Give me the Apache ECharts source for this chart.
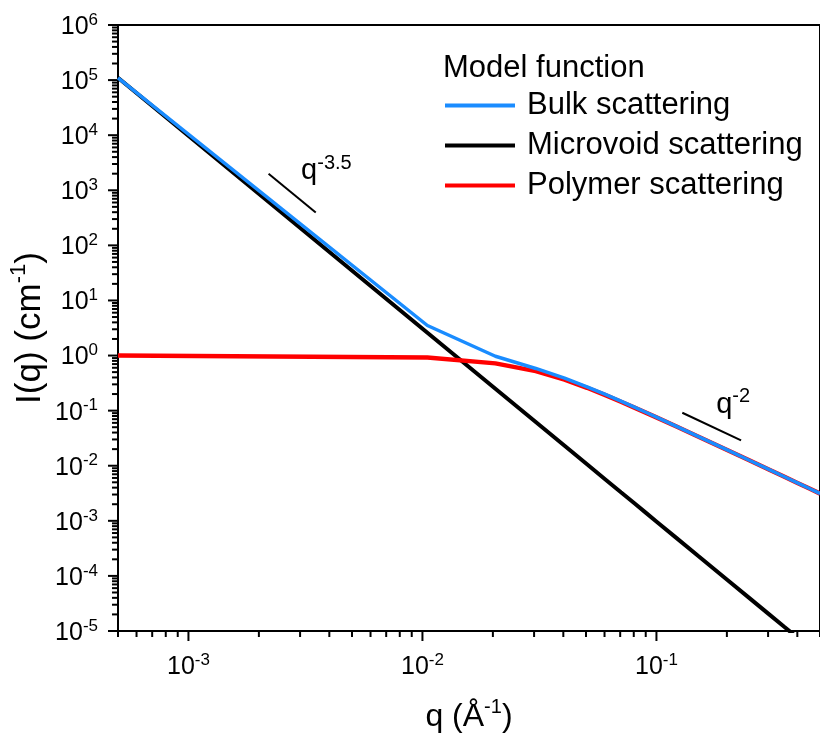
<!DOCTYPE html>
<html>
<head>
<meta charset="utf-8">
<script src="https://cdn.jsdelivr.net/npm/echarts@6/dist/echarts.min.js"></script>
<style>
  html, body { margin: 0; background: #fff; }
  #chart { width: 820px; height: 738px; }
</style>
</head>
<body>
<div id="chart"></div>
<script>
// q (Å^-1) of the model points
const qValues = [0.0005, 0.0105, 0.0205, 0.0305, 0.0405, 0.0505, 0.0605, 0.0705, 0.0805, 0.0905,
  0.1005, 0.1205, 0.1505, 0.2005, 0.2505, 0.3005, 0.3505, 0.4005, 0.4505, 0.5005];
// I(q) (cm^-1)
const bulkI = [1.1e5, 3.51, 0.970, 0.583, 0.388, 0.2707, 0.1968, 0.1485, 0.1157, 0.0925,
  0.0756, 0.0530, 0.0342, 0.01939, 0.01245, 0.00866, 0.00637, 0.00488, 0.00386, 0.00312];
const microvoidI = [1.1e5, 2.59, 0.249, 0.0620, 0.0230, 0.01062, 5.64e-3, 3.30e-3, 2.08e-3, 1.38e-3,
  9.55e-4, 5.06e-4, 2.32e-4, 8.52e-5, 3.91e-5, 2.07e-5, 1.206e-5, 7.56e-6, 5.01e-6, 3.47e-6];
const polymerI = [1.0, 0.919, 0.721, 0.521, 0.365, 0.2601, 0.1912, 0.1452, 0.1136, 0.0911,
  0.0746, 0.0525, 0.0340, 0.01930, 0.01241, 0.00864, 0.00636, 0.00487, 0.00385, 0.00312];

// slope guides and their labels
const guideSteep = [[2.2e-3, 2.0e3], [3.5e-3, 394]];
const guideFlat = [[0.129, 0.0916], [0.230, 0.0288]];
const guideLabelPos = [[3.03e-3, 2.2e3], [0.180, 0.128]];
const guidePowers = ['-3.5', '-2'];

const seriesNames = ['Bulk scattering', 'Microvoid scattering', 'Polymer scattering'];

// axis ranges and labelled decades (tick labels are 10^exp)
const xMin = 0.0005, xMax = 0.5;
const yMin = 1e-5, yMax = 1e6;
const xTickExps = [-3, -2, -1];
const yTickExps = [-5, -4, -3, -2, -1, 0, 1, 2, 3, 4, 5, 6];

// minor ticks at 2..9 of each decade
const minorSteps = [2, 3, 4, 5, 6, 7, 8, 9];
const xMinor = [[xMin, yMin]];
[-4, -3, -2, -1].forEach(d => minorSteps.forEach(k => {
  const v = k * Math.pow(10, d);
  if (v > xMin * 1.01 && v <= xMax * 1.001) xMinor.push([v, yMin]);
}));
const yMinor = [];
yTickExps.slice(0, -1).forEach(d => minorSteps.forEach(k => {
  yMinor.push([xMin, k * Math.pow(10, d)]);
}));

const FONT = 'Arial, "Liberation Sans", Helvetica, sans-serif';
const zip = (xs, ys) => xs.map((x, i) => [x, ys[i]]);

const supRich = (size, supSize) => ({
  b: { fontSize: size, lineHeight: Math.round(size * 1.25), fontFamily: FONT, fill: '#000', color: '#000' },
  s: { fontSize: supSize, lineHeight: supSize, verticalAlign: 'top', fontFamily: FONT, fill: '#000', color: '#000' }
});
const tickRich = supRich(25, 17);

// ticks (and labels) drawn through the axis scales
function tickItem(horizontal, len, labelled) {
  return (params, api) => {
    const v = [api.value(0), api.value(1)];
    const p = api.coord(v);
    const line = horizontal
      ? { x1: p[0], y1: p[1], x2: p[0], y2: p[1] + len }
      : { x1: p[0], y1: p[1], x2: p[0] - len, y2: p[1] };
    const children = [{ type: 'line', shape: line, style: { stroke: '#000', lineWidth: 2 } }];
    if (labelled) {
      const exp = Math.round(Math.log10(horizontal ? v[0] : v[1]));
      children.push({
        type: 'text',
        style: horizontal
          ? { text: '{b|10}{s|' + exp + '}', rich: tickRich, x: p[0], y: p[1] + 21, align: 'center', verticalAlign: 'top' }
          : { text: '{b|10}{s|' + exp + '}', rich: tickRich, x: p[0] - 20, y: p[1] + 2, align: 'right', verticalAlign: 'middle' }
      });
    }
    return { type: 'group', children };
  };
}

const chart = echarts.init(document.getElementById('chart'), null, { renderer: 'canvas' });

chart.setOption({
  animation: false,
  backgroundColor: '#fff',
  grid: { left: 117, right: -3, top: 25, bottom: 105, show: true, borderColor: '#000', borderWidth: 2 },
  title: {
    text: 'Model function', left: 443, top: 53, padding: 0,
    textStyle: { fontSize: 31, fontWeight: 'normal', fontFamily: FONT, color: '#000', lineHeight: 30 }
  },
  legend: {
    data: seriesNames,
    orient: 'vertical', left: 445, top: 90, padding: 0,
    itemWidth: 70, itemHeight: 4, itemGap: 9, icon: 'rect',
    selectedMode: false,
    textStyle: { fontSize: 31, lineHeight: 30, fontFamily: FONT, color: '#000', padding: [0, 0, 0, 7] }
  },
  xAxis: {
    type: 'log', logBase: 10, min: xMin, max: xMax,
    name: '{b|q (Å}{s|-1}{b|)}', nameLocation: 'middle', nameGap: 66,
    nameTextStyle: { rich: supRich(32, 20) },
    axisLine: { lineStyle: { color: '#000', width: 2 } },
    axisTick: { show: false },
    axisLabel: { show: false },
    splitLine: { show: false }
  },
  yAxis: {
    type: 'log', logBase: 10, min: yMin, max: yMax,
    name: '{b|I(q) (cm}{s|-1}{b|)}', nameLocation: 'middle', nameGap: 66, nameRotate: 90,
    nameTextStyle: { rich: supRich(35, 22) },
    axisLine: { lineStyle: { color: '#000', width: 2 } },
    axisTick: { show: false },
    axisLabel: { show: false },
    splitLine: { show: false }
  },
  series: [
    {
      name: seriesNames[1], type: 'line', data: zip(qValues, microvoidI),
      showSymbol: false, symbol: 'none', clip: true, silent: true,
      itemStyle: { color: '#000' }, lineStyle: { color: '#000', width: 4 }
    },
    {
      name: seriesNames[2], type: 'line', data: zip(qValues, polymerI),
      showSymbol: false, symbol: 'none', clip: true, silent: true,
      itemStyle: { color: '#ff0000' }, lineStyle: { color: '#ff0000', width: 4.5 }
    },
    {
      name: seriesNames[0], type: 'line', data: zip(qValues, bulkI),
      showSymbol: false, symbol: 'none', clip: true, silent: true,
      itemStyle: { color: '#1a8cff' }, lineStyle: { color: '#1a8cff', width: 3.5 }
    },
    {
      type: 'line', data: guideSteep, showSymbol: false, symbol: 'none', silent: true,
      lineStyle: { color: '#000', width: 2 }
    },
    {
      type: 'line', data: guideFlat, showSymbol: false, symbol: 'none', silent: true,
      lineStyle: { color: '#000', width: 2 }
    },
    {
      type: 'custom', silent: true, clip: false, data: guideLabelPos,
      renderItem: (params, api) => {
        const p = api.coord([api.value(0), api.value(1)]);
        return {
          type: 'text',
          style: {
            text: '{b|q}{s|' + guidePowers[params.dataIndex] + '}',
            rich: supRich(29, 20), x: p[0], y: p[1], align: 'left', verticalAlign: 'middle'
          }
        };
      }
    },
    { type: 'custom', silent: true, clip: false, data: xMinor, renderItem: tickItem(true, 6, false) },
    { type: 'custom', silent: true, clip: false, data: yMinor, renderItem: tickItem(false, 6, false) },
    {
      type: 'custom', silent: true, clip: false,
      data: xTickExps.map(e => [Math.pow(10, e), yMin]), renderItem: tickItem(true, 10, true)
    },
    {
      type: 'custom', silent: true, clip: false,
      data: yTickExps.map(e => [xMin, Math.pow(10, e)]), renderItem: tickItem(false, 10, true)
    }
  ]
});
</script>
</body>
</html>
